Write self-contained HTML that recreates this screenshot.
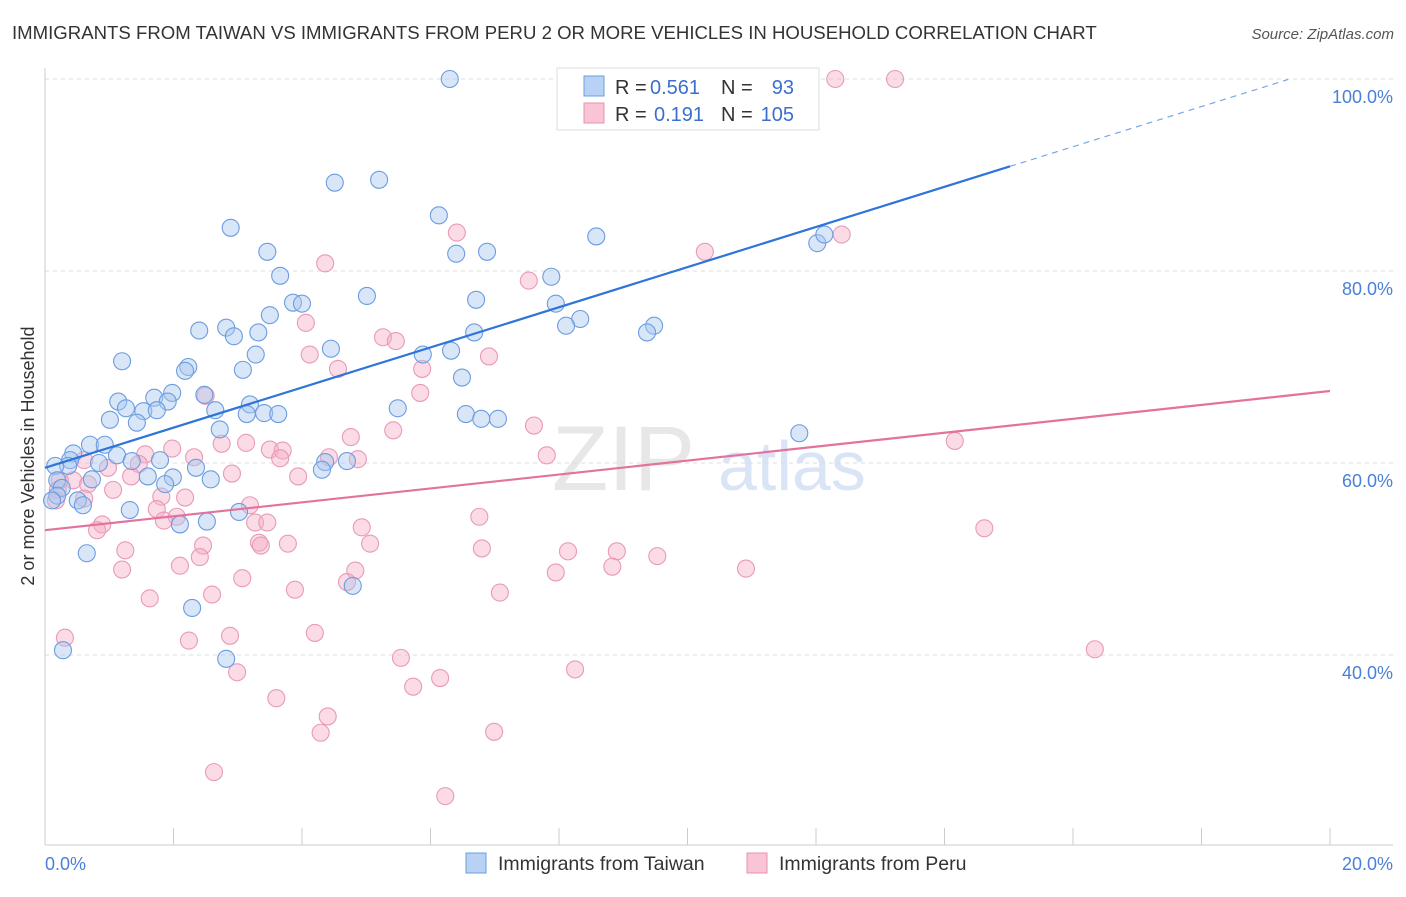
<!DOCTYPE html>
<html><head><meta charset="utf-8">
<style>
body{margin:0;background:#fff;font-family:"Liberation Sans",sans-serif;}
svg text{font-family:"Liberation Sans",sans-serif;}
</style></head>
<body>
<svg id="chart" width="1406" height="892" xmlns="http://www.w3.org/2000/svg">
<text x="12" y="39" font-size="18.6" fill="#333">IMMIGRANTS FROM TAIWAN VS IMMIGRANTS FROM PERU 2 OR MORE VEHICLES IN HOUSEHOLD CORRELATION CHART</text>
<text x="1394" y="39" font-size="15" fill="#555" text-anchor="end" font-style="italic">Source: ZipAtlas.com</text>
<g>
<text x="552" y="490" font-size="92" fill="#ddd" font-family="Liberation Serif" opacity="0.7">ZIP</text>
<text x="718" y="490" font-size="70" fill="#c9daf3" opacity="0.7">atlas</text>
</g>
<g id="grid"></g>
<g id="axes"></g>
<g id="pts"></g>
<g id="trends"></g>
<text transform="translate(34,456) rotate(-90)" font-size="18" fill="#333" text-anchor="middle">2 or more Vehicles in Household</text>
<text x="45" y="870" font-size="18" fill="#4a7fd8">0.0%</text>
<text x="1393" y="870" font-size="18" fill="#4a7fd8" text-anchor="end">20.0%</text>
<g>
<rect x="557" y="68" width="262" height="62" fill="#fff" stroke="#ddd"/>
<rect x="584" y="76" width="20" height="20" fill="#b8d2f5" stroke="#6a9fe0"/>
<rect x="584" y="103" width="20" height="20" fill="#f8c4d6" stroke="#e890b0"/>
<text x="615" y="94" font-size="20" fill="#333">R =</text>
<text x="650" y="94" font-size="20" fill="#3a6fd0">0.561</text>
<text x="721" y="94" font-size="20" fill="#333">N =</text>
<text x="794" y="94" font-size="20" fill="#3a6fd0" text-anchor="end">93</text>
<text x="615" y="121" font-size="20" fill="#333">R =</text>
<text x="654" y="121" font-size="20" fill="#3a6fd0">0.191</text>
<text x="721" y="121" font-size="20" fill="#333">N =</text>
<text x="794" y="121" font-size="20" fill="#3a6fd0" text-anchor="end">105</text>
</g>
<g>
<rect x="466" y="853" width="20" height="20" fill="#b8d2f5" stroke="#6a9fe0"/>
<text x="498" y="870" font-size="19.5" fill="#333">Immigrants from Taiwan</text>
<rect x="747" y="853" width="20" height="20" fill="#f8c4d6" stroke="#e890b0"/>
<text x="779" y="870" font-size="19.5" fill="#333">Immigrants from Peru</text>
</g>
</svg>
<script>
const yTicks=[40,60,80,100];
const yTickLabels=["40.0%","60.0%","80.0%","100.0%"];
const xTicks=[0,2,4,6,8,10,12,14,16,18,20];
const taiwanX=[6.30,4.51,5.20,6.13,2.89,6.40,6.88,8.58,3.46,7.88,3.66,5.01,3.86,4.00,6.71,7.95,3.50,8.33,8.11,9.48,9.37,2.40,2.82,3.32,2.94,6.68,4.45,5.88,6.32,3.28,1.20,2.23,2.18,3.08,6.49,1.98,2.48,1.70,1.14,1.91,1.26,1.53,1.74,2.65,3.19,3.14,3.41,3.63,5.49,6.55,6.79,7.05,1.01,1.43,2.72,11.74,0.70,0.93,0.44,1.12,0.39,1.79,1.35,0.84,0.36,0.16,4.36,4.70,4.31,2.35,1.99,1.60,1.87,2.58,0.73,0.19,0.26,0.19,0.11,0.51,0.59,1.32,3.02,2.52,2.10,0.65,4.79,2.29,0.28,2.82,12.02,12.13];
const taiwanY=[100,89.2,89.5,85.8,84.5,81.8,82.0,83.6,82.0,79.4,79.5,77.4,76.7,76.6,77.0,76.6,75.4,75.0,74.3,74.3,73.6,73.8,74.1,73.6,73.2,73.6,71.9,71.3,71.7,71.3,70.6,70.0,69.6,69.7,68.9,67.3,67.1,66.8,66.4,66.4,65.7,65.4,65.5,65.5,66.1,65.1,65.2,65.1,65.7,65.1,64.6,64.6,64.5,64.2,63.5,63.1,61.9,61.9,61.0,60.8,60.3,60.3,60.2,60.0,59.7,59.7,60.1,60.2,59.3,59.5,58.5,58.6,57.8,58.3,58.3,58.2,57.4,56.6,56.1,56.1,55.6,55.1,54.9,53.9,53.6,50.6,47.2,44.9,40.5,39.6,82.9,83.8];
const peruX=[12.30,13.23,12.40,10.27,6.41,4.36,7.53,4.06,5.26,5.46,4.12,6.91,4.56,5.87,5.84,2.50,7.61,5.42,4.76,2.75,3.13,14.16,3.50,3.70,1.98,1.56,2.32,3.66,4.42,4.87,7.81,0.61,1.46,0.98,2.91,1.34,3.94,0.44,0.67,1.06,1.81,2.18,0.61,3.19,1.74,2.05,6.76,1.85,0.89,3.27,3.46,4.93,0.81,14.62,2.46,3.78,5.06,3.33,3.36,6.80,8.14,8.90,1.25,9.53,2.41,2.10,10.91,1.20,4.83,8.83,7.95,3.07,4.70,3.89,2.60,7.08,1.63,4.20,2.88,0.31,2.24,16.34,5.54,8.25,2.99,6.15,5.73,3.60,4.40,4.29,6.99,2.63,6.23,0.20,0.23,0.17];
const peruY=[100,100,83.8,82.0,84.0,80.8,79.0,74.6,73.1,72.7,71.3,71.1,69.8,69.8,67.3,67.0,63.9,63.4,62.7,62.0,62.1,62.3,61.4,61.3,61.5,60.9,60.6,60.5,60.6,60.4,60.8,60.3,59.9,59.5,58.9,58.6,58.6,58.2,57.8,57.2,56.5,56.4,56.3,55.6,55.2,54.4,54.4,54.0,53.6,53.8,53.8,53.3,53.0,53.2,51.4,51.6,51.6,51.7,51.4,51.1,50.8,50.8,50.9,50.3,50.2,49.3,49.0,48.9,48.8,49.2,48.6,48.0,47.6,46.8,46.3,46.5,45.9,42.3,42.0,41.8,41.5,40.6,39.7,38.5,38.2,37.6,36.7,35.5,33.6,31.9,32.0,27.8,25.3,57.2,58.2,56.1];
const taiwanTrend=[59.5,90.9];
const peruTrend=[53.0,67.5];
const NS="http://www.w3.org/2000/svg";
function sx(v){return 45+v*64.25;}
function sy(v){return 79+(100-v)*9.6;}
function mk(tag,attrs,parent){const e=document.createElementNS(NS,tag);for(const k in attrs)e.setAttribute(k,attrs[k]);parent.appendChild(e);return e;}
const grid=document.getElementById('grid'),axes=document.getElementById('axes'),pts=document.getElementById('pts'),tr=document.getElementById('trends');
yTicks.forEach((t,i)=>{
 const l=mk('line',{x1:45,x2:1393,y1:sy(t),y2:sy(t),stroke:'#ddd','stroke-dasharray':'4,4'},grid);
 
 
 const tx=mk('text',{x:1393,y:sy(t)+24,'font-size':18,fill:'#4a7fd8','text-anchor':'end'},grid);
 tx.textContent=yTickLabels[i];
 
 
});
mk('line',{x1:45,x2:45,y1:68,y2:845,stroke:'#ccc'},axes);
mk('line',{x1:45,x2:1393,y1:845,y2:845,stroke:'#ccc'},axes);
xTicks.forEach(t=>{
 const l=mk('line',{x1:sx(t),x2:sx(t),y1:828,y2:845,stroke:'#ccc'},axes);
 
 
});
function dots(xs,ys,fill,stroke,name){
 xs.forEach((x,i)=>{
  const c=mk('circle',{cx:sx(x),cy:sy(ys[i]),r:8.5,fill:fill,'fill-opacity':0.45,stroke:stroke,'stroke-width':1.1},pts);
  
  
 });
}
dots(peruX,peruY,'#f4b0c8','#e99ab8','peru-point');
dots(taiwanX,taiwanY,'#a8c8f0','#6b9de0','taiwan-point');
const tEnd=15.02,slope=(taiwanTrend[1]-taiwanTrend[0])/tEnd;
let l1=mk('line',{x1:sx(0),y1:sy(taiwanTrend[0]),x2:sx(tEnd),y2:sy(taiwanTrend[1]),stroke:'#2f74d8','stroke-width':2.2},tr);


let l2=mk('line',{x1:sx(tEnd),y1:sy(taiwanTrend[1]),x2:sx(19.35),y2:sy(taiwanTrend[0]+slope*19.35),stroke:'#7aa6e6','stroke-width':1.2,'stroke-dasharray':'6,5'},tr);


let l3=mk('line',{x1:sx(0),y1:sy(peruTrend[0]),x2:sx(20),y2:sy(peruTrend[1]),stroke:'#e3739c','stroke-width':2.2},tr);


</script>
</body></html>
